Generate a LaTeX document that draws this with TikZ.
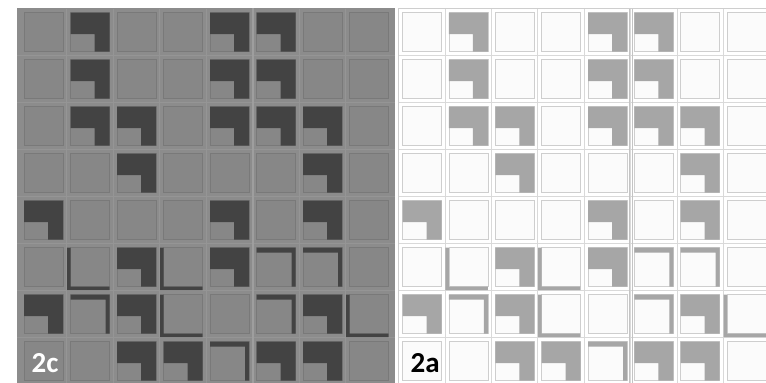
\documentclass[tikz,border=0pt]{standalone}
\usepackage{fontspec}
\setmainfont{Carlito}
\definecolor{lpbg}{HTML}{8C8C8C}
\definecolor{lcell}{HTML}{878787}
\definecolor{lborder}{HTML}{797979}
\definecolor{lgap}{HTML}{959595}
\definecolor{ldark}{HTML}{434343}
\definecolor{lsep}{HTML}{9E9E9E}
\definecolor{rcell}{HTML}{FBFBFB}
\definecolor{rborder}{HTML}{CECECE}
\definecolor{rgap}{HTML}{D9D9D9}
\definecolor{rmark}{HTML}{A6A6A6}
\definecolor{rsep}{HTML}{C4C4C4}
\newcommand{\gaplines}[5]{%
  % #1 x of column 1, #2 column pitch, #3 colour, #4 left end, #5 right end
  \foreach \c in {1,...,7}{
    \pgfmathsetmacro\xg{#1+\c*#2-3.7}
    \draw[gapline,#3] (\xg,8.5) -- (\xg,383);
  }
  \foreach \r in {1,...,7}{
    \pgfmathsetmacro\yg{12.7+\r*47-4}
    \draw[gapline,#3] (#4,\yg) -- (#5,\yg);
  }
}
\newcommand{\drawpanel}[5]{%
  % #1 x of column 1, #2 column pitch, #3 cell fill, #4 cell border, #5 mark colour
  \foreach \r in {1,...,8}{\foreach \c in {1,...,8}{
    \pgfmathsetmacro\xl{#1+(\c-1)*#2}
    \pgfmathsetmacro\yt{12.7+(\r-1)*47}
    \filldraw[cellbox,fill=#3,draw=#4] (\xl,\yt) rectangle ++(39,39);
  }}
  \foreach \r/\c in {1/2,1/5,1/6,2/2,2/5,2/6,3/2,3/3,3/5,3/6,3/7,4/3,4/7,5/1,5/5,5/7,6/3,6/5,7/1,7/3,7/7,8/3,8/4,8/6,8/7}{
    \pgfmathsetmacro\xl{#1+(\c-1)*#2}
    \pgfmathsetmacro\yt{12.7+(\r-1)*47}
    \fill[#5] (\xl,\yt) -- ++(39,0) -- ++(0,39) -- ++(-15,0) -- ++(0,-17.5) -- ++(-24,0) -- cycle;
  }
  \foreach \r/\c in {6/6,6/7,7/2,7/6,8/5}{
    \pgfmathsetmacro\xl{#1+(\c-1)*#2}
    \pgfmathsetmacro\yt{12.7+(\r-1)*47}
    \fill[#5] (\xl,\yt) -- ++(39,0) -- ++(0,39) -- ++(-4,0) -- ++(0,-34) -- ++(-35,0) -- cycle;
  }
  \foreach \r/\c in {6/2,6/4,7/4,7/8}{
    \pgfmathsetmacro\xl{#1+(\c-1)*#2}
    \pgfmathsetmacro\yt{12.7+(\r-1)*47}
    \fill[#5] (\xl-3.5,\yt) -- ++(3.5,0) -- ++(0,39) -- ++(39,0) -- ++(0,3.5) -- ++(-42.5,0) -- cycle;
  }
}
\begin{document}
\begin{tikzpicture}[x=1pt,y=-1pt,
  cellbox/.style={line width=0.9pt},
  gapline/.style={line width=1pt},
  panellabel/.style={anchor=base west,inner sep=0pt,font=\fontsize{29}{29}\selectfont\bfseries}]
\useasboundingbox (0,0) rectangle (766,383);
\fill[white] (0,0) rectangle (766,383);
% left panel (2c)
\fill[lpbg] (17,8) rectangle (395,383);
\gaplines{24}{46.5}{lgap}{17}{395}
\draw[lsep,line width=2pt] (252.8,8) -- (252.8,383);
\drawpanel{24}{46.5}{lcell}{lborder}{ldark}
% right panel (2a)
\gaplines{402.6}{46.35}{rgap}{398}{766}
\draw[rborder,line width=1pt] (398,8.5) -- (766,8.5);
\draw[rborder,line width=1.2pt] (398.3,8.5) -- (398.3,383);
\draw[rsep,line width=1pt] (629,8.5) -- (629,383);
\draw[rsep,line width=1pt] (632.3,8.5) -- (632.3,383);
\drawpanel{402.6}{46.35}{rcell}{rborder}{rmark}
% labels
\node[panellabel,text=white] (lab2c) at (31.5,372) {2c};
\node[panellabel,text=black] (lab2a) at (410.5,372) {2a};
\end{tikzpicture}
\end{document}
